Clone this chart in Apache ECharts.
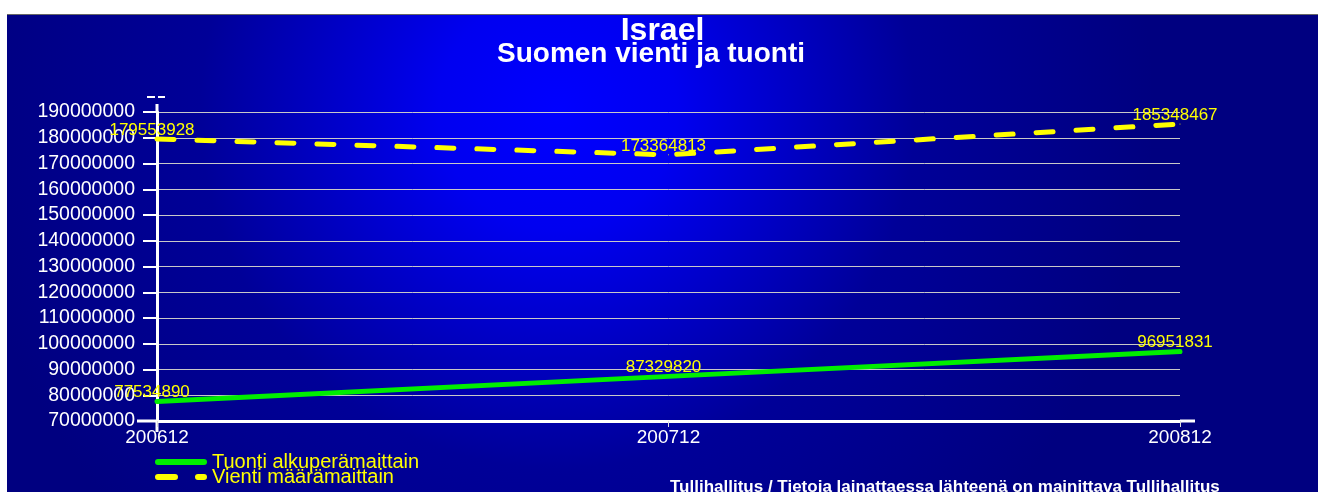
<!DOCTYPE html>
<html>
<head>
<meta charset="utf-8">
<script src="https://cdn.jsdelivr.net/npm/echarts@6/dist/echarts.min.js"></script>
<style>
  html, body { margin: 0; padding: 0; background: #fff; }
  #container { position: absolute; left: 7px; top: 14px; width: 1311px; height: 477px; border-top: 1px solid #666; }
</style>
</head>
<body>
<div id="container"></div>
<script>
var categories = ['200612', '200712', '200812'];
var tuonti = [77534890, 87329820, 96951831];
var vienti = [179553928, 173364813, 185348467];
var seriesNames = ['Tuonti alkuperämaittain', 'Vienti määrämaittain'];

var dom = document.getElementById('container');
var myChart = echarts.init(dom, null, { renderer: 'canvas' });
var font = 'Liberation Sans, Arial, sans-serif';

function legendFor(name, top) {
  return {
    data: [name], left: 148, top: top, padding: 0,
    itemWidth: 46, itemHeight: 14, itemGap: 0,
    itemStyle: { opacity: 0 },
    lineStyle: { width: 6 },
    textStyle: { color: '#ffff00', fontSize: 20, fontFamily: font, padding: [0, 0, 0, 3] }
  };
}

var option = {
  backgroundColor: {
    type: 'radial', x: 0.42, y: 0.2, r: 1.25,
    colorStops: [
      { offset: 0, color: '#0000ff' },
      { offset: 0.2, color: '#0000f0' },
      { offset: 0.6, color: '#000098' },
      { offset: 1, color: '#000080' }
    ]
  },
  title: [
    { text: 'Israel', left: 'center', top: -5,
      textStyle: { color: '#fff', fontSize: 32, fontWeight: 'bold', fontFamily: font } },
    { text: 'Suomen vienti ja tuonti', left: 485, top: 20,
      textStyle: { color: '#fff', fontSize: 28, fontWeight: 'bold', fontFamily: font } }
  ],
  legend: [legendFor(seriesNames[0], 437), legendFor(seriesNames[1], 452)],
  grid: { left: 150, right: 138, top: 97, bottom: 71 },
  xAxis: {
    type: 'category',
    data: categories,
    boundaryGap: false,
    axisLine: { lineStyle: { color: '#fff', width: 3 } },
    axisTick: { length: 6, lineStyle: { color: '#ddd', width: 1 } },
    axisLabel: { color: '#fff', fontSize: 19, margin: 7, fontFamily: font },
    splitLine: { show: false }
  },
  yAxis: {
    type: 'value',
    min: 70000000, max: 190000000, interval: 10000000,
    axisLine: { show: true, lineStyle: { color: '#fff', width: 3 } },
    axisTick: { show: true, length: 14, lineStyle: { color: '#fff', width: 2 } },
    axisLabel: { color: '#fff', fontSize: 19.5, margin: 22, fontFamily: font,
      formatter: function (v) { return String(v); } },
    splitLine: { lineStyle: { color: '#c8c8c8', width: 1 } }
  },
  series: [
    {
      name: seriesNames[0], type: 'line', data: tuonti,
      symbol: 'circle', symbolSize: 1,
      itemStyle: { color: '#00ee00' },
      lineStyle: { color: '#00ee00', width: 5, cap: 'round' },
      label: { show: true, position: 'top', distance: 0, offset: [-5, 0], color: '#ffff00', fontSize: 17, fontFamily: font }
    },
    {
      name: seriesNames[1], type: 'line', data: vienti,
      symbol: 'circle', symbolSize: 1,
      itemStyle: { color: '#ffff00' },
      lineStyle: { color: '#ffff00', width: 5, type: [17, 23], cap: 'round' },
      label: { show: true, position: 'top', distance: 0, offset: [-5, 0], color: '#ffff00', fontSize: 17, fontFamily: font }
    }
  ],
  graphic: [
    { type: 'line', shape: { x1: 140, y1: 82, x2: 148, y2: 82 }, style: { stroke: '#fff', lineWidth: 2 } },
    { type: 'line', shape: { x1: 151, y1: 82, x2: 158, y2: 82 }, style: { stroke: '#fff', lineWidth: 2 } },
    { type: 'line', shape: { x1: 150, y1: 89, x2: 150, y2: 97 }, style: { stroke: '#fff', lineWidth: 3 } },
    { type: 'line', shape: { x1: 150, y1: 406, x2: 150, y2: 417 }, style: { stroke: '#fff', lineWidth: 3 } },
    { type: 'line', shape: { x1: 130, y1: 406, x2: 150, y2: 406 }, style: { stroke: '#fff', lineWidth: 3 } },
    { type: 'line', shape: { x1: 1173, y1: 406, x2: 1188, y2: 406 }, style: { stroke: '#fff', lineWidth: 3 } },
    { type: 'text', left: 663, top: 464,
      style: { text: 'Tullihallitus / Tietoja lainattaessa lähteenä on mainittava Tullihallitus',
        fill: '#fff', font: 'bold 17px Liberation Sans, Arial, sans-serif' } }
  ]
};

myChart.setOption(option);
window.addEventListener('resize', myChart.resize);
</script>
</body>
</html>
